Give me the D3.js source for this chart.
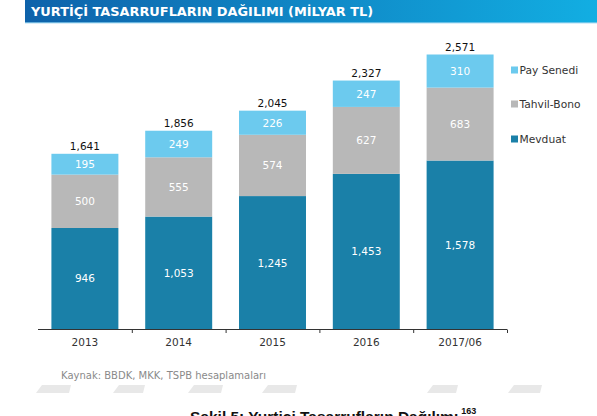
<!DOCTYPE html>
<html><head><meta charset="utf-8">
<script src="https://cdn.jsdelivr.net/npm/d3@7/dist/d3.min.js"></script>
<style>body{margin:0;background:#fff}svg{display:block}</style>
</head><body>
<svg id="c" width="597" height="416"></svg>
<script>
const categories = ["2013","2014","2015","2016","2017/06"];
const mevduat = [946,1053,1245,1453,1578];
const tahvil = [500,555,574,627,683];
const pay = [195,249,226,247,310];
const totals = [1641,1856,2045,2327,2571];
const seriesNames = ["Mevduat","Tahvil-Bono","Pay Senedi"];
const colors = ["#1a80a8","#b8b8b8","#6ccaee"];

const svg = d3.select("#c");
const defs = svg.append("defs");
const g = defs.append("linearGradient").attr("id","tg").attr("x1","0").attr("x2","1");
g.append("stop").attr("offset","0").attr("stop-color","#0e62aa");
g.append("stop").attr("offset","1").attr("stop-color","#12aee2");
svg.append("rect").attr("x",25).attr("y",0).attr("width",572).attr("height",23).attr("fill","url(#tg)");
svg.append("rect").attr("x",25).attr("y",22).attr("width",572).attr("height",1.5).attr("fill","#8fd0ee").attr("opacity",0.7);
svg.append("text").attr("x",31).attr("y",16).attr("fill","#fff")
  .attr("font-family","DejaVu Sans").attr("font-weight","bold").attr("font-size",12.9)
  .text("YURTİÇİ TASARRUFLARIN DAĞILIMI (MİLYAR TL)");

const x = d3.scaleBand().domain(categories).range([38,507]).paddingInner(0.286).paddingOuter(0.143);
const y = d3.scaleLinear().domain([0,2571]).range([329,54.5]);

const rows = categories.map((c,i)=>({cat:c, Mevduat:mevduat[i], "Tahvil-Bono":tahvil[i], "Pay Senedi":pay[i], total:totals[i]}));
const stack = d3.stack().keys(seriesNames)(rows);

const font = "DejaVu Sans";
stack.forEach((s,si)=>{
  const gg = svg.append("g");
  gg.selectAll("rect").data(s).join("rect")
    .attr("x",d=>x(d.data.cat)).attr("width",x.bandwidth())
    .attr("y",d=>y(d[1])).attr("height",d=>y(d[0])-y(d[1]))
    .attr("fill",colors[si]);
  gg.selectAll("text").data(s).join("text")
    .attr("x",d=>x(d.data.cat)+x.bandwidth()/2)
    .attr("y",d=>(y(d[0])+y(d[1]))/2+4)
    .attr("text-anchor","middle").attr("fill","#fff")
    .attr("font-family",font).attr("font-size",10.5)
    .text(d=>d3.format(",")(d[1]-d[0]));
});
svg.append("g").selectAll("text").data(rows).join("text")
  .attr("x",d=>x(d.cat)+x.bandwidth()/2).attr("y",d=>y(d.total)-4)
  .attr("text-anchor","middle").attr("fill","#111")
  .attr("font-family",font).attr("font-size",10.5)
  .text(d=>d3.format(",")(d.total));

// axis
const ax = svg.append("g");
ax.append("line").attr("x1",38).attr("x2",507).attr("y1",329.5).attr("y2",329.5).attr("stroke","#333").attr("stroke-width",1);
const step = x.step();
ax.selectAll("line.t").data(categories).join("line").attr("class","t")
  .attr("x1",(d)=>x(d)+x.bandwidth()+step*0.143+0.5).attr("x2",(d)=>x(d)+x.bandwidth()+step*0.143+0.5)
  .attr("y1",329.5).attr("y2",333).attr("stroke","#333");
ax.selectAll("text").data(categories).join("text")
  .attr("x",d=>x(d)+x.bandwidth()/2).attr("y",346)
  .attr("text-anchor","middle").attr("fill","#333")
  .attr("font-family",font).attr("font-size",10.5).text(d=>d);

// legend
const legendOrder = ["Pay Senedi","Tahvil-Bono","Mevduat"];
const ly = [70,104,139];
const lg = svg.append("g");
legendOrder.forEach((n,i)=>{
  lg.append("rect").attr("x",511).attr("y",ly[i]-3.5).attr("width",7).attr("height",7).attr("fill",colors[seriesNames.indexOf(n)]);
  lg.append("text").attr("x",519.5).attr("y",ly[i]+4).attr("fill","#333")
    .attr("font-family",font).attr("font-size",10.7).text(n);
});

svg.append("text").attr("x",61).attr("y",379).attr("fill","#8a8a8a")
  .attr("font-family",font).attr("font-size",10).text("Kaynak: BBDK, MKK, TSPB hesaplamaları");

// watermark shapes
const wm = [[36,71],[113,145],[188,223],[262,297],[427,458],[508,542]];
svg.append("g").selectAll("path").data(wm).join("path")
  .attr("d",d=>`M${d[0]},393 L${d[0]+6},385 L${d[1]},385 L${d[1]-2},393 Z`)
  .attr("fill","#e8e8e8");

const cap = svg.append("text").attr("x",190).attr("y",422).attr("fill","#111")
  .attr("font-family","Liberation Sans").attr("font-weight","bold").attr("font-size",15.5);
cap.append("tspan").text("Şekil 5: Yurtiçi Tasarrufların Dağılımı");
cap.append("tspan").attr("font-size",9).attr("dy",-8).attr("dx",3).text("163");
</script>
</body></html>
